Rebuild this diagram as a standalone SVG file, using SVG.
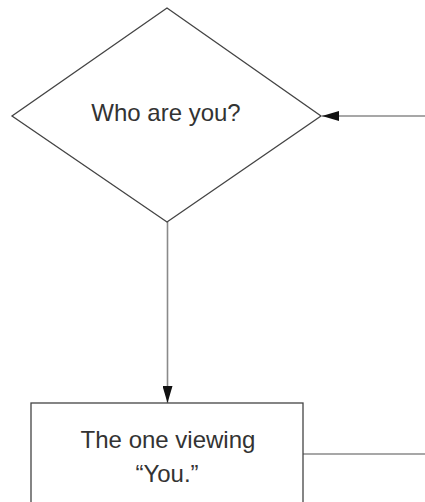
<svg xmlns="http://www.w3.org/2000/svg" width="425" height="502" viewBox="0 0 425 502">
<defs>
<style>
.shape{fill:#fff;stroke:#444;stroke-width:1.3}
.conn{fill:none;stroke:#8a8a8a;stroke-width:1.6}
.lbl{font-family:"Liberation Sans",Arial,sans-serif;font-size:24px;fill:#333;text-anchor:middle}
</style>
<marker id="arr" viewBox="0 0 17 10" refX="17" refY="5" markerWidth="17" markerHeight="10" markerUnits="userSpaceOnUse" orient="auto">
<path d="M0,0 L17,5 L0,10 Z" fill="#111"/>
</marker>
</defs>
<rect width="425" height="502" fill="#fff"/>
<g id="connectors">
<line class="conn" x1="425" y1="116" x2="322" y2="116" marker-end="url(#arr)"/>
<line class="conn" x1="167.5" y1="222" x2="167.5" y2="403" marker-end="url(#arr)"/>
<line class="conn" x1="303" y1="454" x2="425" y2="454"/>
</g>
<g id="node-who">
<polygon class="shape" points="167,8 321,116 167,222 12,116"/>
<text class="lbl" x="166" y="121">Who are you?</text>
</g>
<g id="node-viewer">
<rect class="shape" x="31" y="403" width="272" height="120"/>
<text class="lbl" x="168" y="448">The one viewing</text>
<text class="lbl" x="167" y="482">“You.”</text>
</g>
</svg>
